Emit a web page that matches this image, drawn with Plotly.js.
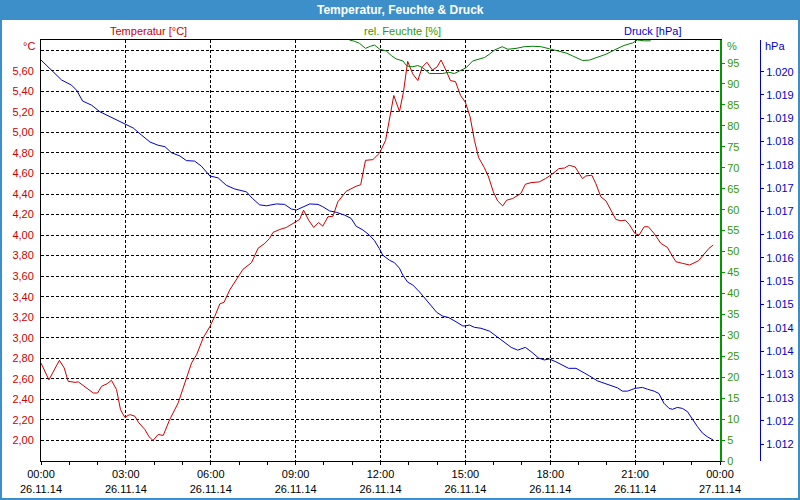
<!DOCTYPE html>
<html><head><meta charset="utf-8">
<script src="https://cdn.plot.ly/plotly-3.0.1.min.js"></script>
<style>html,body{margin:0;padding:0;background:#fff}#chart{width:800px;height:500px}</style>
</head><body><div id="chart"></div>
<script>
// ---- data (hours since 26.11.14 00:00) ----
const tempHours = [0,0.28,0.65,0.82,0.96,1.2,1.32,1.55,1.85,2.0,2.14,2.34,2.49,2.67,2.81,2.96,3.14,3.32,3.44,3.67,3.82,3.96,4.14,4.32,4.55,4.85,5.08,5.32,5.5,5.73,5.97,6.14,6.32,6.47,6.67,6.91,7.14,7.44,7.67,7.91,8.08,8.2,8.44,8.67,8.97,9.14,9.28,9.46,9.64,9.81,9.96,10.14,10.32,10.49,10.79,10.97,11.14,11.3,11.47,11.73,11.97,12.18,12.32,12.47,12.67,12.81,12.96,13.14,13.32,13.47,13.64,13.83,13.99,14.14,14.32,14.47,14.65,14.83,15.0,15.17,15.32,15.47,15.67,15.82,15.99,16.14,16.32,16.46,16.67,16.96,17.12,17.32,17.61,17.83,18.06,18.3,18.5,18.67,18.88,19.14,19.26,19.47,19.61,19.79,19.97,20.14,20.32,20.5,20.65,20.79,20.99,21.14,21.32,21.47,21.67,21.91,22.14,22.26,22.44,22.67,22.93,23.24,23.44,23.61,23.76];
const tempValues = [2.754,2.59,2.78,2.706,2.576,2.566,2.57,2.527,2.462,2.462,2.527,2.553,2.586,2.495,2.30,2.226,2.252,2.236,2.178,2.107,2.036,2.0,2.058,2.049,2.204,2.366,2.56,2.754,2.835,2.997,3.11,3.207,3.33,3.346,3.466,3.57,3.667,3.731,3.871,3.919,3.968,4.026,4.055,4.074,4.119,4.152,4.243,4.146,4.074,4.123,4.087,4.178,4.184,4.323,4.427,4.453,4.476,4.49,4.728,4.735,4.80,4.922,5.133,5.36,5.204,5.391,5.692,5.57,5.505,5.634,5.683,5.609,5.634,5.705,5.602,5.505,5.495,5.359,5.294,5.149,4.922,4.754,4.657,4.566,4.42,4.333,4.284,4.34,4.356,4.405,4.495,4.511,4.518,4.55,4.592,4.647,4.653,4.68,4.663,4.55,4.576,4.583,4.502,4.372,4.333,4.243,4.152,4.139,4.146,4.104,4.016,4.0,4.081,4.081,4.016,3.919,3.88,3.822,3.741,3.725,3.709,3.75,3.815,3.871,3.903];

const humHours = [10.9,11.08,11.26,11.47,11.64,11.79,11.97,12.2,12.38,12.55,12.79,12.93,13.12,13.32,13.49,13.73,13.97,14.2,14.41,14.61,14.79,15.03,15.26,15.44,15.67,15.85,16.03,16.3,16.5,16.79,17.08,17.38,17.67,17.97,18.26,18.56,18.79,19.14,19.38,19.61,19.97,20.32,20.61,20.91,21.08,21.32,21.55];
const humValues = [100.5,100.2,99.7,98.5,99.0,99.3,98.3,97.9,96.8,96.0,95.5,94.3,94.1,94.4,93.9,92.5,92.5,92.5,92.8,92.5,93.1,93.9,95.5,95.9,96.3,97.1,98.1,98.9,98.3,98.5,98.9,99.0,98.9,98.4,97.9,97.4,96.7,95.6,95.7,96.3,97.1,98.3,99.2,99.8,100.5,100.3,100.3];

const pressHours = [0,0.32,0.73,1.08,1.26,1.47,1.79,2.08,2.38,2.73,2.96,3.26,3.55,3.85,4.14,4.38,4.61,4.91,5.14,5.43,5.67,5.97,6.26,6.55,6.85,7.26,7.47,7.73,7.97,8.32,8.61,8.85,9.03,9.26,9.5,9.79,9.96,10.2,10.44,10.73,10.96,11.14,11.38,11.61,11.79,11.96,12.08,12.32,12.49,12.67,12.79,12.96,13.14,13.38,13.61,13.82,13.99,14.2,14.41,14.67,14.91,15.0,15.14,15.32,15.55,15.85,16.08,16.38,16.62,16.85,17.12,17.32,17.59,17.79,17.97,18.2,18.44,18.65,18.91,19.14,19.38,19.67,19.91,20.14,20.38,20.55,20.73,21.0,21.26,21.44,21.67,21.84,22.02,22.2,22.32,22.49,22.67,22.85,23.02,23.2,23.38,23.55,23.76];
const pressValues = [1020.25,1020.07,1019.82,1019.71,1019.60,1019.37,1019.28,1019.14,1019.05,1018.94,1018.87,1018.79,1018.64,1018.49,1018.42,1018.39,1018.26,1018.19,1018.09,1018.08,1017.97,1017.76,1017.72,1017.56,1017.48,1017.42,1017.28,1017.14,1017.12,1017.16,1017.15,1017.05,1017.03,1017.09,1017.16,1017.15,1017.10,1017.01,1016.98,1016.92,1016.85,1016.68,1016.60,1016.49,1016.37,1016.20,1016.06,1015.95,1015.90,1015.78,1015.63,1015.48,1015.42,1015.27,1015.10,1014.95,1014.83,1014.75,1014.72,1014.63,1014.54,1014.54,1014.56,1014.51,1014.49,1014.43,1014.32,1014.18,1014.08,1014.02,1014.08,1013.99,1013.85,1013.81,1013.83,1013.77,1013.70,1013.63,1013.63,1013.56,1013.47,1013.36,1013.31,1013.26,1013.21,1013.14,1013.14,1013.20,1013.22,1013.18,1013.14,1013.09,1012.88,1012.77,1012.75,1012.79,1012.77,1012.70,1012.54,1012.38,1012.24,1012.16,1012.09];

// ---- tick labels ----
const xTickVals = [0,3,6,9,12,15,18,21,24];
const xTickText = ['00:00<br>26.11.14','03:00<br>26.11.14','06:00<br>26.11.14','09:00<br>26.11.14','12:00<br>26.11.14','15:00<br>26.11.14','18:00<br>26.11.14','21:00<br>26.11.14','00:00<br>27.11.14'];
const tempTickVals = [2.0,2.2,2.4,2.6,2.8,3.0,3.2,3.4,3.6,3.8,4.0,4.2,4.4,4.6,4.8,5.0,5.2,5.4,5.6,5.8];
const tempTickText = ['2,00','2,20','2,40','2,60','2,80','3,00','3,20','3,40','3,60','3,80','4,00','4,20','4,40','4,60','4,80','5,00','5,20','5,40','5,60',''];
const humTickVals = [0,5,10,15,20,25,30,35,40,45,50,55,60,65,70,75,80,85,90,95];
const humTickText = humTickVals.map(String);
const pressTickVals = [1012,1012.5,1013,1013.5,1014,1014.5,1015,1015.5,1016,1016.5,1017,1017.5,1018,1018.5,1019,1019.5,1020];
const pressTickText = ['1.012','1.012','1.013','1.013','1.014','1.014','1.015','1.015','1.016','1.016','1.017','1.017','1.018','1.018','1.019','1.019','1.020'];

// ---- styling ----
const RED = '#cc0000', GREEN = '#008000', GREENTXT = '#339900', BLUE = '#0000cc', FRAME = '#3c8fc8';
const FONT = 'Liberation Sans, Arial, sans-serif';
const L = 41, R = 760, T = 40, B = 461;
const px = x => (x - L) / (R - L);
const py = y => (B - y) / (B - T);

const traces = [
  {x: tempHours, y: tempValues, type: 'scatter', mode: 'lines', line: {color: RED, width: 1}, xaxis: 'x', yaxis: 'y'},
  {x: humHours, y: humValues, type: 'scatter', mode: 'lines', line: {color: GREEN, width: 1}, xaxis: 'x', yaxis: 'y2'},
  {x: pressHours, y: pressValues, type: 'scatter', mode: 'lines', line: {color: BLUE, width: 1}, xaxis: 'x', yaxis: 'y3'}
];

const layout = {
  width: 800, height: 500,
  margin: {l: L, r: 800 - R, t: T, b: 500 - B, pad: 0},
  paper_bgcolor: '#fff', plot_bgcolor: '#fff',
  showlegend: false, hovermode: false,
  font: {family: FONT, size: 11, color: '#000'},
  xaxis: {
    domain: [0, (720 - L) / (R - L)], range: [0, 24],
    tickmode: 'array', tickvals: xTickVals, ticktext: xTickText,
    showline: true, linecolor: '#000', linewidth: 1, mirror: true,
    ticks: 'outside', ticklen: 3, tickcolor: '#000',
    showgrid: true, gridcolor: '#000', griddash: '3px,2px', gridwidth: 1, zeroline: false,
    minor: {dtick: 1, tick0: 0, ticks: 'outside', ticklen: 3, tickcolor: '#000', showgrid: false},
    tickfont: {family: FONT, size: 11, color: '#000'}
  },
  yaxis: {
    range: [1.8, 5.9], tickmode: 'array', tickvals: tempTickVals, ticktext: tempTickText,
    showline: true, linecolor: '#000', linewidth: 1, ticks: '', ticklabelstandoff: 4,
    showgrid: true, gridcolor: '#000', griddash: '3px,2px', gridwidth: 1, zeroline: false,
    tickfont: {family: FONT, size: 11, color: RED}
  },
  yaxis2: {
    range: [0, 100.5], overlaying: 'y', side: 'right', anchor: 'x',
    tickmode: 'array', tickvals: humTickVals, ticktext: humTickText,
    showline: true, linecolor: '#009900', linewidth: 2, ticks: 'outside', ticklen: 3, tickcolor: '#009900',
    showgrid: false, zeroline: false,
    tickfont: {family: FONT, size: 11, color: GREENTXT}
  },
  yaxis3: {
    range: [1011.64, 1020.68], overlaying: 'y', side: 'right', anchor: 'free', position: 1,
    tickmode: 'array', tickvals: pressTickVals, ticktext: pressTickText,
    showline: true, linecolor: BLUE, linewidth: 1, ticks: 'outside', ticklen: 3, tickcolor: BLUE,
    showgrid: false, zeroline: false,
    tickfont: {family: FONT, size: 11, color: BLUE}
  },
  shapes: [
    {type: 'rect', xref: 'paper', yref: 'paper', x0: px(0), x1: px(800), y0: py(0), y1: py(20), fillcolor: FRAME, line: {width: 0}, layer: 'above'},
    {type: 'rect', xref: 'paper', yref: 'paper', x0: px(1), x1: px(799), y0: py(1), y1: py(499), fillcolor: 'rgba(0,0,0,0)', line: {color: FRAME, width: 2}, layer: 'above'}
  ],
  annotations: [
    {text: '<b>Temperatur, Feuchte &amp; Druck</b>', xref: 'paper', yref: 'paper', x: px(400), y: py(10), xanchor: 'center', yanchor: 'middle', showarrow: false, font: {family: FONT, size: 12, color: '#fff'}},
    {text: 'Temperatur [°C]', xref: 'paper', yref: 'paper', x: px(148), y: py(31), xanchor: 'center', yanchor: 'middle', showarrow: false, font: {family: FONT, size: 11, color: RED}},
    {text: 'rel. Feuchte [%]', xref: 'paper', yref: 'paper', x: px(402), y: py(31), xanchor: 'center', yanchor: 'middle', showarrow: false, font: {family: FONT, size: 11, color: GREENTXT}},
    {text: 'Druck [hPa]', xref: 'paper', yref: 'paper', x: px(652), y: py(31), xanchor: 'center', yanchor: 'middle', showarrow: false, font: {family: FONT, size: 11, color: BLUE}},
    {text: '°C', xref: 'paper', yref: 'paper', x: px(37), y: py(46), xanchor: 'right', yanchor: 'middle', showarrow: false, font: {family: FONT, size: 11, color: RED}},
    {text: '%', xref: 'paper', yref: 'paper', x: px(725), y: py(46), xanchor: 'left', yanchor: 'middle', showarrow: false, font: {family: FONT, size: 11, color: GREENTXT}},
    {text: 'hPa', xref: 'paper', yref: 'paper', x: px(763), y: py(46), xanchor: 'left', yanchor: 'middle', showarrow: false, font: {family: FONT, size: 11, color: BLUE}}
  ]
};

Plotly.newPlot('chart', traces, layout, {displayModeBar: false, staticPlot: true});
</script></body></html>
